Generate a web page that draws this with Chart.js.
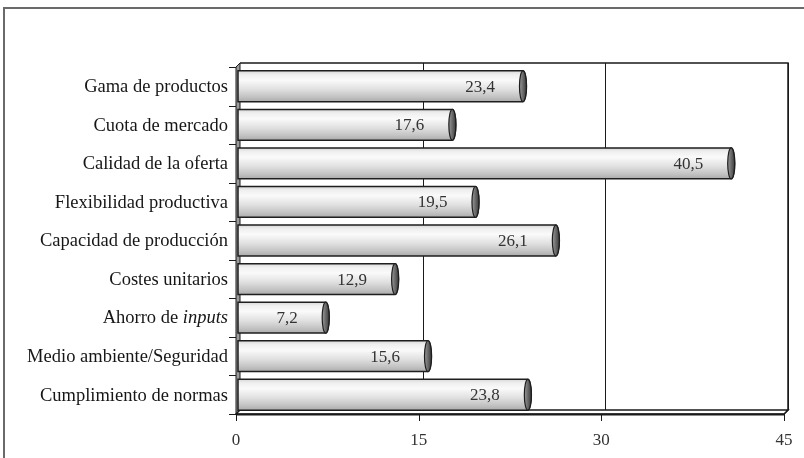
<!DOCTYPE html>
<html>
<head>
<meta charset="utf-8">
<script src="https://cdn.jsdelivr.net/npm/chart.js@4.4.1/dist/chart.umd.min.js"></script>
<style>
  html, body { margin: 0; padding: 0; background: #fff; }
  #wrap { position: relative; width: 804px; height: 458px; }
  canvas { display: block; }
</style>
</head>
<body>
<div id="wrap"><canvas id="c" width="804" height="458"></canvas></div>
<script>
// Categories (top to bottom); an italic fragment is marked with *...*
const categories = [
  'Gama de productos',
  'Cuota de mercado',
  'Calidad de la oferta',
  'Flexibilidad productiva',
  'Capacidad de producción',
  'Costes unitarios',
  'Ahorro de *inputs*',
  'Medio ambiente/Seguridad',
  'Cumplimiento de normas'
];
const values = [23.4, 17.6, 40.5, 19.5, 26.1, 12.9, 7.2, 15.6, 23.8];
const xTicks = [0, 15, 30, 45];

const SERIF = '"Liberation Serif", "DejaVu Serif", serif';
const DX = 4, DY = 4; // depth offset of the back wall

function plainLabel(s) { return s.replace(/\*/g, ''); }

// Frame, walls, floor and grid of the pseudo-3D plot box
const wallsPlugin = {
  id: 'walls',
  beforeDatasetsDraw(chart) {
    const { ctx, chartArea: ca, scales: { x } } = chart;
    ctx.save();
    // outer frame (top and left edges)
    ctx.strokeStyle = '#6a6a6a';
    ctx.lineWidth = 2;
    ctx.beginPath();
    ctx.moveTo(4, 458); ctx.lineTo(4, 8); ctx.lineTo(804, 8);
    ctx.stroke();

    // back wall grid lines
    ctx.strokeStyle = '#1a1a1a';
    ctx.lineWidth = 1;
    xTicks.forEach(v => {
      if (v === 0) return;
      const px = Math.round(x.getPixelForValue(v) + DX) + 0.5;
      ctx.beginPath();
      ctx.moveTo(px, ca.top - DY);
      ctx.lineTo(px, ca.bottom - DY);
      ctx.lineTo(px - DX, ca.bottom);
      ctx.stroke();
    });
    // back wall top + right edge
    ctx.lineWidth = 1.5;
    ctx.beginPath();
    ctx.moveTo(ca.left + DX, ca.top - DY);
    ctx.lineTo(ca.right + DX, ca.top - DY);
    ctx.lineTo(ca.right + DX, ca.bottom - DY);
    ctx.stroke();

    // left side wall
    ctx.fillStyle = '#9c9c9c';
    ctx.strokeStyle = '#1a1a1a';
    ctx.lineWidth = 1;
    ctx.beginPath();
    ctx.moveTo(ca.left, ca.top);
    ctx.lineTo(ca.left + DX, ca.top - DY);
    ctx.lineTo(ca.left + DX, ca.bottom - DY);
    ctx.lineTo(ca.left, ca.bottom);
    ctx.closePath();
    ctx.fill();
    ctx.stroke();

    // floor
    ctx.fillStyle = '#ffffff';
    ctx.lineWidth = 1.5;
    ctx.beginPath();
    ctx.moveTo(ca.left, ca.bottom);
    ctx.lineTo(ca.left + DX, ca.bottom - DY);
    ctx.lineTo(ca.right + DX, ca.bottom - DY);
    ctx.lineTo(ca.right, ca.bottom);
    ctx.closePath();
    ctx.fill();
    ctx.stroke();
    ctx.lineWidth = 2;
    ctx.beginPath();
    ctx.moveTo(ca.left, ca.bottom + 0.5);
    ctx.lineTo(ca.right, ca.bottom + 0.5);
    ctx.stroke();

    // x tick marks
    ctx.lineWidth = 1;
    xTicks.forEach(v => {
      const px = Math.round(x.getPixelForValue(v)) + 0.5;
      ctx.beginPath();
      ctx.moveTo(px, ca.bottom);
      ctx.lineTo(px, ca.bottom + 7);
      ctx.stroke();
    });
    // y tick marks at category boundaries
    const n = categories.length;
    const step = (ca.bottom - ca.top) / n;
    for (let i = 0; i <= n; i++) {
      const py = Math.round(ca.top + i * step) + 0.5;
      ctx.beginPath();
      ctx.moveTo(ca.left - 7, py);
      ctx.lineTo(ca.left, py);
      ctx.stroke();
    }
    ctx.restore();
  }
};

// Cylinder bars with value labels
const cylinderPlugin = {
  id: 'cylinders',
  afterDatasetsDraw(chart) {
    const { ctx } = chart;
    const meta = chart.getDatasetMeta(0);
    ctx.save();
    meta.data.forEach((bar, i) => {
      const x0 = bar.base + 2, x1 = bar.x + 2;
      const h = bar.height, top = bar.y - h / 2, bot = bar.y + h / 2;
      const rx = 3.5;
      const g = ctx.createLinearGradient(0, top, 0, bot);
      g.addColorStop(0, '#d8d8d8');
      g.addColorStop(0.12, '#efefef');
      g.addColorStop(0.3, '#fafafa');
      g.addColorStop(0.6, '#e0e0e0');
      g.addColorStop(0.85, '#c2c2c2');
      g.addColorStop(1, '#ababab');
      ctx.fillStyle = g;
      ctx.beginPath();
      ctx.moveTo(x0, top);
      ctx.lineTo(x1, top);
      ctx.ellipse(x1, bar.y, rx, h / 2, 0, -Math.PI / 2, Math.PI / 2);
      ctx.lineTo(x0, bot);
      ctx.closePath();
      ctx.fill();
      ctx.strokeStyle = '#1e1e1e';
      ctx.lineWidth = 1.5;
      ctx.stroke();
      // end cap
      const cg = ctx.createLinearGradient(x1 - rx, 0, x1 + rx, 0);
      cg.addColorStop(0, '#9a9a9a');
      cg.addColorStop(0.5, '#6a6a6a');
      cg.addColorStop(1, '#3c3c3c');
      ctx.fillStyle = cg;
      ctx.beginPath();
      ctx.ellipse(x1, bar.y, rx, h / 2, 0, 0, Math.PI * 2);
      ctx.fill();
      ctx.lineWidth = 1.2;
      ctx.stroke();
      // value label
      ctx.fillStyle = '#333';
      ctx.font = '17px ' + SERIF;
      ctx.textAlign = 'right';
      ctx.textBaseline = 'middle';
      ctx.fillText(values[i].toFixed(1).replace('.', ','), x1 - 28, bar.y + 1);
    });
    ctx.restore();
  },
  afterDraw(chart) {
    // category labels, with italic fragments
    const { ctx, chartArea: ca, scales: { y } } = chart;
    ctx.save();
    ctx.fillStyle = '#161616';
    ctx.textBaseline = 'middle';
    categories.forEach((lab, i) => {
      const py = y.getPixelForValue(i) + 1;
      const parts = lab.split('*');
      const fonts = parts.map((_, k) => (k % 2 ? 'italic ' : '') + '18.5px ' + SERIF);
      let total = 0;
      parts.forEach((p, k) => { ctx.font = fonts[k]; total += ctx.measureText(p).width; });
      let px = ca.left - 8 - total;
      ctx.textAlign = 'left';
      parts.forEach((p, k) => {
        ctx.font = fonts[k];
        ctx.fillText(p, px, py);
        px += ctx.measureText(p).width;
      });
    });
    ctx.restore();
  }
};

new Chart(document.getElementById('c'), {
  type: 'bar',
  data: {
    labels: categories.map(plainLabel),
    datasets: [{
      data: values,
      backgroundColor: 'rgba(0,0,0,0)',
      borderWidth: 0,
      barPercentage: 0.8,
      categoryPercentage: 1.0
    }]
  },
  options: {
    indexAxis: 'y',
    responsive: false,
    animation: false,
    layout: { padding: { left: 0, top: 67, right: 20, bottom: 0 } },
    plugins: { legend: { display: false }, tooltip: { enabled: false } },
    scales: {
      x: {
        min: 0, max: 45,
        afterBuildTicks(scale) { scale.ticks = xTicks.map(v => ({ value: v })); },
        grid: { display: false },
        border: { display: false },
        ticks: { color: '#333', font: { family: SERIF, size: 17 }, padding: 8 },
        afterFit(scale) { scale.height = 458 - 414; }
      },
      y: {
        grid: { display: false },
        border: { display: false },
        ticks: { display: false },
        afterFit(scale) { scale.width = 236; }
      }
    }
  },
  plugins: [wallsPlugin, cylinderPlugin]
});
</script>
</body>
</html>
